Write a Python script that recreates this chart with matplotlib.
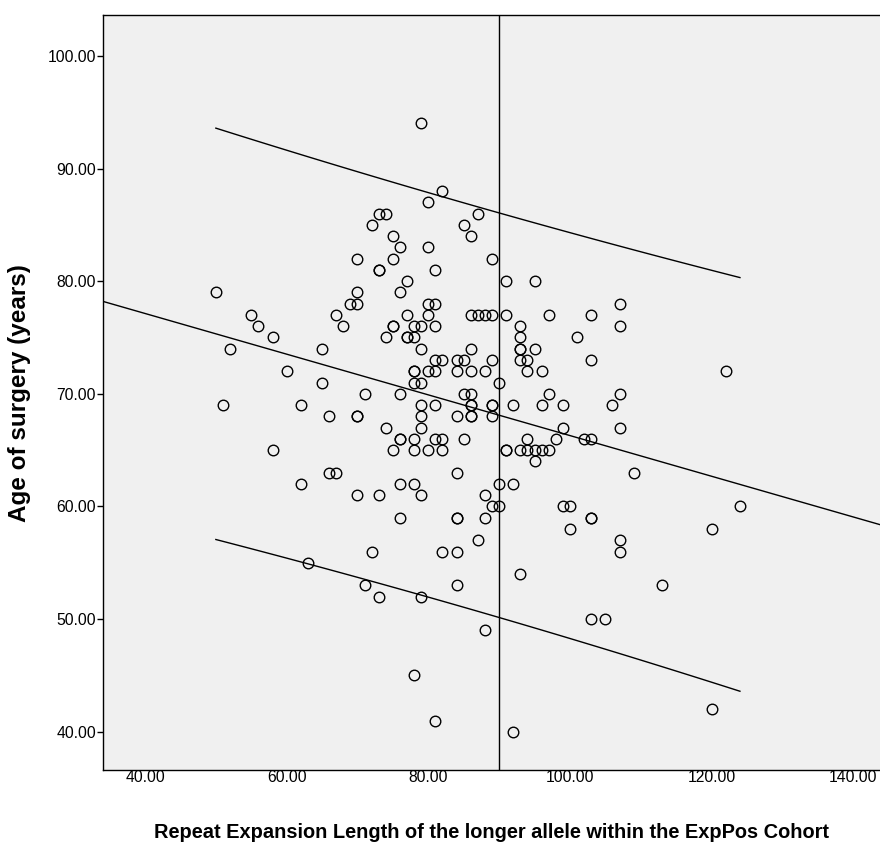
import numpy as np
import matplotlib
matplotlib.use("Agg")
import matplotlib.pyplot as plt

# =============================================================================
# DATA
# =============================================================================

repeat_len = [
    50, 55, 56, 58, 52, 60, 51, 62, 58, 62,
    79, 82, 80, 73, 74, 72, 75, 76, 80, 70, 75, 73, 73, 81, 77, 70, 76, 69, 70, 80, 81,
    67, 77, 80, 68, 75, 75, 78, 79, 81, 74, 77, 77, 78, 79, 65, 81, 82, 78, 78, 80, 81,
    78, 79, 65, 71, 76, 79, 81, 66, 70, 70, 79, 74, 79, 76, 76, 78, 81, 82, 75, 78, 80, 82,
    66, 67, 76, 78, 70, 73, 79, 76, 72, 82, 63, 71, 73, 79, 78, 81,
    87, 85, 86, 89, 91, 95,
    86, 87, 88, 89, 91, 97, 103, 93, 93, 101, 86, 93, 93, 95, 84, 85, 89, 93, 94, 103,
    84, 86, 88, 94, 96, 90, 85, 86, 97, 86, 86, 89, 89, 92, 96, 99, 84, 86, 86, 89, 99,
    85, 94, 98, 102, 103, 91, 91, 93, 94, 95, 96, 97,
    95, 84, 90, 92, 88, 89, 90, 99, 100, 103, 103, 84, 84, 88, 100, 87, 84, 93, 84, 88,
    92, 103, 105,
    107, 107, 122, 107, 106, 107, 109, 124, 120, 107, 107, 113, 120,
]

age_surgery = [
    79, 77, 76, 75, 74, 72, 69, 69, 65, 62,
    94, 88, 87, 86, 86, 85, 84, 83, 83, 82, 82, 81, 81, 81, 80, 79, 79, 78, 78, 78, 78,
    77, 77, 77, 76, 76, 76, 76, 76, 76, 75, 75, 75, 75, 74, 74, 73, 73, 72, 72, 72, 72,
    71, 71, 71, 70, 70, 69, 69, 68, 68, 68, 68, 67, 67, 66, 66, 66, 66, 66, 65, 65, 65, 65,
    63, 63, 62, 62, 61, 61, 61, 59, 56, 56, 55, 53, 52, 52, 45, 41,
    86, 85, 84, 82, 80, 80,
    77, 77, 77, 77, 77, 77, 77, 76, 75, 75, 74, 74, 74, 74, 73, 73, 73, 73, 73, 73,
    72, 72, 72, 72, 72, 71, 70, 70, 70, 69, 69, 69, 69, 69, 69, 69, 68, 68, 68, 68, 67,
    66, 66, 66, 66, 66, 65, 65, 65, 65, 65, 65, 65,
    64, 63, 62, 62, 61, 60, 60, 60, 60, 59, 59, 59, 59, 59, 58, 57, 56, 54, 53, 49,
    40, 50, 50,
    78, 76, 72, 70, 69, 67, 63, 60, 58, 57, 56, 53, 42,
]

ref_line_x = 90
x_ticks = [40, 60, 80, 100, 120, 140]
y_ticks = [40, 50, 60, 70, 80, 90, 100]

# =============================================================================
# REGRESSION + 95% PREDICTION INTERVAL
# =============================================================================

x = np.array(repeat_len, dtype=float)
y = np.array(age_surgery, dtype=float)
n = len(x)
slope, intercept = np.polyfit(x, y, 1)
resid = y - (intercept + slope * x)
s = np.sqrt(np.sum(resid ** 2) / (n - 2))
sxx = np.sum((x - x.mean()) ** 2)
t_crit = 1.96

xlim = (34.06, 143.9)
fit_x = np.array(xlim)
pi_x = np.linspace(x.min(), x.max(), 100)
pi_half = t_crit * s * np.sqrt(1 + 1 / n + (pi_x - x.mean()) ** 2 / sxx)
pi_fit = intercept + slope * pi_x

# =============================================================================
# PLOT
# =============================================================================

plt.rcParams["font.family"] = ["Liberation Sans", "DejaVu Sans"]

fig = plt.figure(figsize=(8.8, 8.5), dpi=100)
ax = fig.add_axes([0.117, 0.094, 0.884, 0.888])
ax.set_facecolor("#f0f0f0")

ax.axvline(ref_line_x, color="black", linewidth=1.0, zorder=1)
ax.plot(fit_x, intercept + slope * fit_x, color="black", linewidth=1.0, zorder=2)
ax.plot(pi_x, pi_fit + pi_half, color="black", linewidth=1.0, zorder=2)
ax.plot(pi_x, pi_fit - pi_half, color="black", linewidth=1.0, zorder=2)

ax.plot(x, y, linestyle="none", marker="o", markersize=7.6,
        markerfacecolor="none", markeredgecolor="black", markeredgewidth=1.0, zorder=3)

ax.set_xlim(*xlim)
ax.set_ylim(36.6, 103.6)
ax.set_xticks(x_ticks)
ax.set_yticks(y_ticks)
ax.set_xticklabels([f"{v:.2f}" for v in x_ticks], fontsize=11.3)
ax.set_yticklabels([f"{v:.2f}" for v in y_ticks], fontsize=11.3)
ax.tick_params(axis="x", direction="out", length=0, pad=0, colors="black")
ax.tick_params(axis="y", direction="out", length=4, width=1.0, pad=1, colors="black")
for sp in ax.spines.values():
    sp.set_linewidth(1.0)

ax.set_xlabel("Repeat Expansion Length of the longer allele within the ExpPos Cohort",
              fontsize=14.4, fontweight="bold", labelpad=27)
ax.set_ylabel("Age of surgery (years)", fontsize=17.5, fontweight="bold", labelpad=12)

fig.savefig("out.png", dpi=100)
plt.close(fig)
